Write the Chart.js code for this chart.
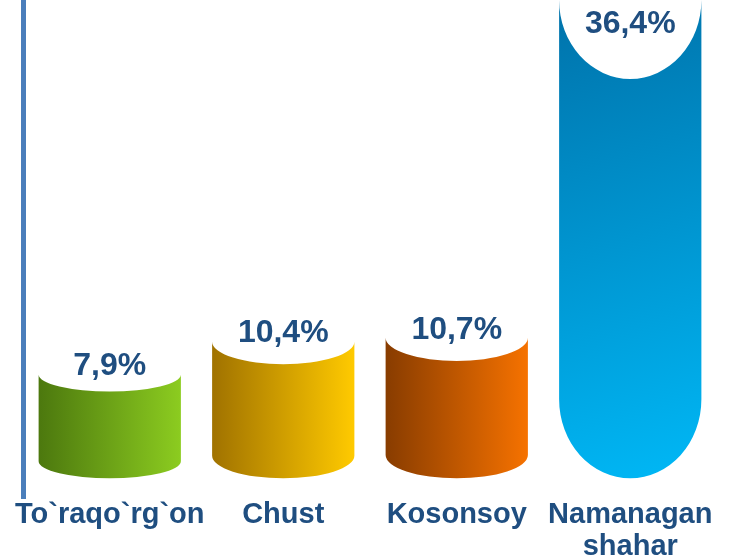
<!DOCTYPE html>
<html>
<head>
<meta charset="utf-8">
<script src="https://cdn.jsdelivr.net/npm/chart.js@4/dist/chart.umd.min.js"></script>
<style>
  html, body { margin: 0; padding: 0; background: #fff; }
  #wrap { width: 735px; height: 560px; }
</style>
</head>
<body>
<div id="wrap"><canvas id="chart"></canvas></div>
<script>
// data
const districts = ['To`raqo`rg`on', 'Chust', 'Kosonsoy', ['Namanagan', 'shahar']];
const shares = [7.9, 10.4, 10.7, 36.4];

// gradient colours (dark edge -> light edge)
const barColors = [
    ['#4c780e', '#8ccc20'],
    ['#a07200', '#ffca00'],
    ['#883c00', '#f67200'],
    ['#0072aa', '#00b8f6']
];
const textColor = '#1f4e80';

function fmt(v) {
    return v.toFixed(1).replace('.', ',') + '%';
}

// draws each bar as a cylinder with a concave top and a round bottom
const cylinderPlugin = {
    id: 'cylinders',
    afterDatasetsDraw(chart) {
        const ctx = chart.ctx;
        const meta = chart.getDatasetMeta(0);
        meta.data.forEach((bar, i) => {
            const p = bar.getProps(['x', 'y', 'base', 'width'], true);
            const rx = p.width / 2;
            const ry = (p.base - p.y) * 0.165;
            const left = p.x - rx;
            const right = p.x + rx;

            let grad;
            if (i === barColors.length - 1) {
                grad = ctx.createLinearGradient(left, p.y, right, p.base);
            } else {
                grad = ctx.createLinearGradient(left, 0, right, 0);
            }
            grad.addColorStop(0, barColors[i][0]);
            grad.addColorStop(1, barColors[i][1]);

            ctx.save();
            ctx.beginPath();
            ctx.moveTo(left, p.y);
            ctx.ellipse(p.x, p.y, rx, ry, 0, Math.PI, 0, true);
            ctx.lineTo(right, p.base - ry);
            ctx.ellipse(p.x, p.base - ry, rx, ry, 0, 0, Math.PI, false);
            ctx.closePath();
            ctx.fillStyle = grad;
            ctx.fill();

            // value label
            ctx.fillStyle = textColor;
            ctx.font = 'bold 32px "Liberation Sans", Arial, sans-serif';
            ctx.textAlign = 'center';
            ctx.textBaseline = 'middle';
            const ly = Math.max(p.y - 8, chart.chartArea.top + 24);
            ctx.fillText(fmt(shares[i]), p.x, ly);
            ctx.restore();
        });
    }
};

const ctx = document.getElementById('chart').getContext('2d');
new Chart(ctx, {
    type: 'bar',
    data: {
        labels: districts,
        datasets: [{
            data: shares,
            backgroundColor: 'rgba(0,0,0,0)',
            borderWidth: 0,
            categoryPercentage: 0.82,
            barPercentage: 1
        }]
    },
    options: {
        responsive: true,
        maintainAspectRatio: false,
        animation: false,
        layout: {
            padding: { left: 20, right: 18, top: 0, bottom: 0 }
        },
        plugins: {
            legend: { display: false },
            tooltip: { enabled: false }
        },
        scales: {
            x: {
                grid: { display: false, drawTicks: false },
                border: { display: false },
                ticks: {
                    color: textColor,
                    font: { family: '"Liberation Sans", Arial, sans-serif', size: 29, weight: 'bold', lineHeight: 1.1 },
                    padding: 1,
                    maxRotation: 0,
                    autoSkip: false
                },
                afterFit: s => { s.height = 62; }
            },
            y: {
                min: -1.5,
                max: 36.4,
                grid: { display: false, drawTicks: false },
                border: { display: true, color: '#4a7ebb', width: 5 },
                ticks: { display: false },
                afterFit: s => { s.width = 3; }
            }
        }
    },
    plugins: [cylinderPlugin]
});
</script>
</body>
</html>
